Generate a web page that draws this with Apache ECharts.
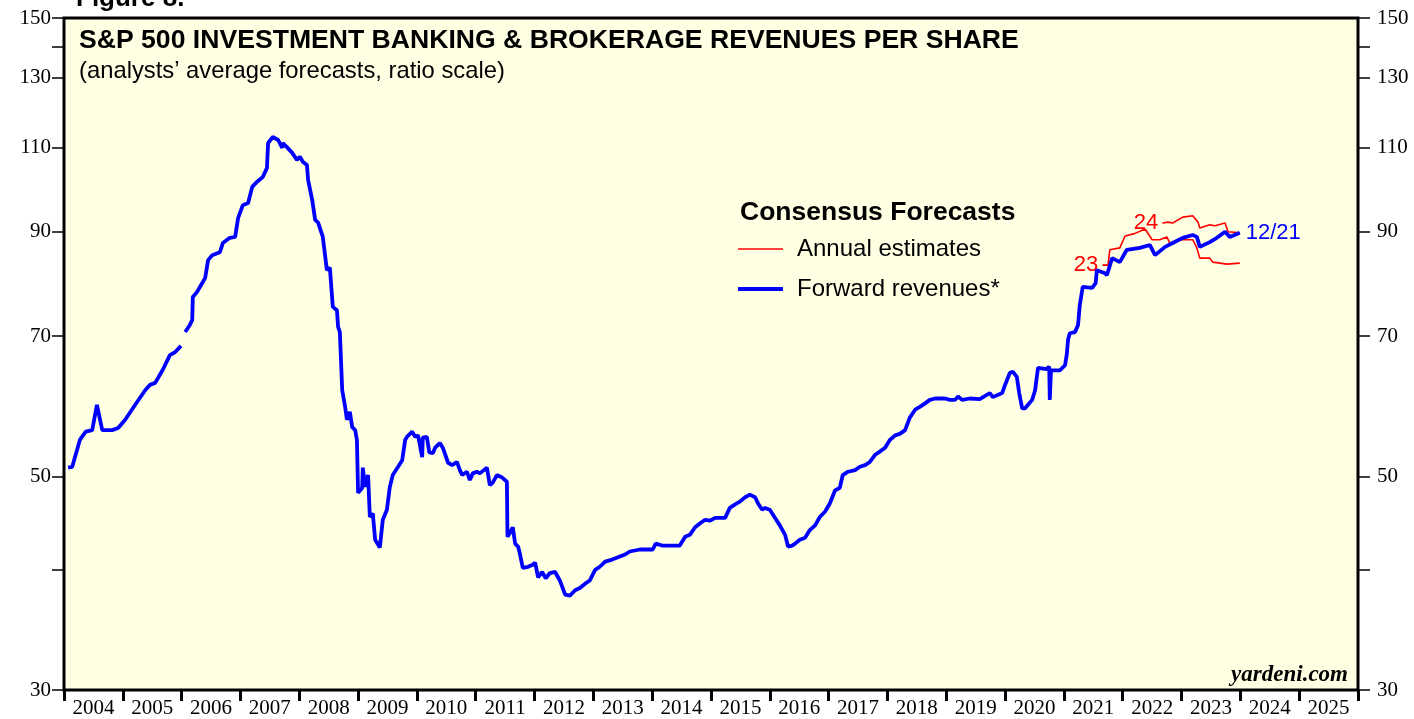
<!DOCTYPE html>
<html>
<head>
<meta charset="utf-8">
<title>S&amp;P 500 Investment Banking &amp; Brokerage Revenues Per Share</title>
<script src="https://cdn.jsdelivr.net/npm/echarts@6/dist/echarts.min.js"></script>
<style>
    html, body { margin: 0; padding: 0; background: #fff; }
    #chart { width: 1414px; height: 719px; }
</style>
</head>
<body>
<div id="chart"></div>
<script>
    // year labels on the bottom axis (one band per year)
    var years = ['2004','2005','2006','2007','2008','2009','2010','2011','2012','2013','2014',
                 '2015','2016','2017','2018','2019','2020','2021','2022','2023','2024','2025'];
    // ratio scale ticks
    var yLabelValues = [30, 50, 70, 90, 110, 130, 150];
    var yTickValues = [30, 40, 50, 70, 90, 110, 130, 140, 150];

    // forward revenues per share [year, value]
    var fwdRevenue = [
        [2004.07,51.1],[2004.14,51.2],[2004.27,54.6],[2004.37,55.7],[2004.48,55.9],[2004.56,59.4],[2004.65,55.9],[2004.82,55.9],[2004.92,56.2],
        [2005.04,57.3],[2005.21,59.4],[2005.38,61.5],[2005.46,62.3],[2005.55,62.6],[2005.68,64.6],[2005.80,66.9],[2005.89,67.4],[2005.99,68.4],
        [2006.02,null],
        [2006.06,70.7],[2006.14,71.9],[2006.18,72.8],[2006.19,76.9],[2006.26,77.8],[2006.35,79.5],[2006.40,80.5],[2006.45,84.0],[2006.52,85.0],[2006.65,85.6],[2006.70,87.5],[2006.82,88.6],[2006.91,88.8],[2006.96,92.9],
        [2007.04,95.8],[2007.13,96.3],[2007.20,100.1],[2007.28,101.3],[2007.38,102.5],[2007.45,104.7],[2007.47,111.2],[2007.55,112.8],[2007.64,112.0],[2007.71,109.9],[2007.72,111.2],[2007.79,110.1],[2007.88,108.6],[2007.96,106.8],
        [2008.01,107.6],[2008.06,106.3],[2008.13,105.5],[2008.15,101.8],[2008.22,97.0],[2008.27,92.5],[2008.32,91.9],[2008.40,88.8],[2008.47,82.0],[2008.52,82.5],[2008.57,75.1],[2008.64,74.5],[2008.66,71.6],[2008.69,70.7],[2008.73,61.5],[2008.78,59.1],[2008.81,57.3],[2008.86,58.4],[2008.90,56.3],[2008.95,55.9],[2008.98,54.6],
        [2009.00,48.1],[2009.07,48.7],[2009.08,51.1],[2009.12,48.8],[2009.17,50.2],[2009.20,45.4],[2009.25,45.8],[2009.29,43.0],[2009.37,42.2],[2009.42,45.1],[2009.49,46.2],[2009.54,48.8],[2009.59,50.2],[2009.68,51.2],[2009.75,52.0],[2009.80,54.6],[2009.83,55.0],[2009.92,55.7],[2009.97,55.0],
        [2010.02,55.2],[2010.09,52.4],[2010.10,54.9],[2010.17,55.0],[2010.21,53.0],[2010.27,52.9],[2010.31,53.6],[2010.39,54.2],[2010.44,53.6],[2010.53,51.7],[2010.60,51.4],[2010.68,51.8],[2010.73,50.8],[2010.77,50.2],[2010.85,50.6],[2010.90,49.6],[2010.95,50.4],
        [2011.02,50.6],[2011.07,50.4],[2011.19,51.1],[2011.24,49.0],[2011.29,49.3],[2011.36,50.2],[2011.45,49.9],[2011.53,49.4],[2011.54,43.3],[2011.58,43.7],[2011.63,44.3],[2011.67,42.6],[2011.72,42.3],[2011.75,41.6],[2011.80,40.2],[2011.89,40.3],[2011.97,40.5],
        [2012.01,40.7],[2012.06,39.3],[2012.13,39.8],[2012.19,39.2],[2012.26,39.7],[2012.35,39.8],[2012.43,39.0],[2012.52,37.7],[2012.60,37.6],[2012.69,38.1],[2012.77,38.3],[2012.86,38.7],[2012.94,39.0],
        [2013.03,40.0],[2013.11,40.3],[2013.20,40.8],[2013.32,41.0],[2013.45,41.3],[2013.54,41.5],[2013.62,41.8],[2013.79,42.0],[2013.93,42.0],
        [2014.01,42.0],[2014.06,42.6],[2014.17,42.4],[2014.47,42.4],[2014.56,43.3],[2014.64,43.5],[2014.73,44.3],[2014.81,44.7],[2014.90,45.1],[2014.98,45.0],
        [2015.07,45.3],[2015.24,45.3],[2015.32,46.4],[2015.41,46.8],[2015.49,47.1],[2015.58,47.6],[2015.66,47.9],[2015.75,47.6],[2015.80,46.9],[2015.87,46.2],[2015.92,46.4],
        [2016.00,46.2],[2016.09,45.3],[2016.17,44.5],[2016.26,43.5],[2016.31,42.3],[2016.38,42.4],[2016.43,42.6],[2016.51,43.0],[2016.60,43.2],[2016.68,44.0],[2016.77,44.5],[2016.85,45.4],[2016.94,46.0],
        [2017.02,46.9],[2017.11,48.4],[2017.19,48.7],[2017.24,50.2],[2017.33,50.6],[2017.45,50.8],[2017.53,51.2],[2017.62,51.4],[2017.70,51.8],[2017.79,52.7],[2017.87,53.1],[2017.96,53.6],
        [2018.04,54.6],[2018.13,55.2],[2018.21,55.4],[2018.30,55.9],[2018.38,57.6],[2018.47,58.7],[2018.55,59.1],[2018.64,59.6],[2018.72,60.1],[2018.81,60.3],[2018.98,60.3],
        [2019.06,60.1],[2019.15,60.1],[2019.20,60.6],[2019.27,60.1],[2019.40,60.3],[2019.57,60.2],[2019.74,61.1],[2019.79,60.5],[2019.95,61.1],
        [2020.00,62.3],[2020.08,64.1],[2020.13,64.3],[2020.20,63.5],[2020.24,61.1],[2020.29,58.9],[2020.34,58.9],[2020.46,60.1],[2020.51,61.5],[2020.56,64.9],[2020.71,64.7],[2020.75,65.1],[2020.76,60.1],[2020.78,64.5],[2020.93,64.5],
        [2021.02,65.3],[2021.05,67.1],[2021.07,69.4],[2021.10,70.5],[2021.19,70.7],[2021.24,71.9],[2021.27,75.4],[2021.32,78.8],[2021.48,78.6],[2021.54,79.5],[2021.56,82.0],[2021.70,81.4],[2021.73,81.0],[2021.82,84.4],[2021.95,83.6],
        [2022.07,86.1],[2022.29,86.5],[2022.46,87.1],[2022.55,85.0],[2022.72,86.7],[2022.85,87.5],
        [2023.02,88.6],[2023.19,89.2],[2023.26,88.8],[2023.31,86.7],[2023.48,87.7],[2023.60,88.6],[2023.74,89.9],[2023.82,88.8],[2023.99,89.7]
    ];

    // annual estimates for 2023 and 2024 [year, value]
    var est2023 = [
        [2021.66,83.0],[2021.75,83.0],[2021.78,86.1],[2021.95,86.5],[2022.04,89.0],[2022.20,89.5],[2022.38,90.5],[2022.50,88.2],[2022.63,88.2],
        [2022.75,88.8],[2022.80,87.5],[2023.02,88.2],[2023.19,88.2],[2023.26,86.5],[2023.31,84.4],[2023.48,84.4],[2023.53,83.6],[2023.77,83.2],[2023.99,83.4]
    ];
    var est2024 = [
        [2022.68,91.8],[2022.77,92.0],[2022.85,91.8],[2023.02,93.1],[2023.19,93.4],[2023.28,92.0],[2023.31,90.7],[2023.48,91.4],
        [2023.57,91.2],[2023.74,91.8],[2023.79,89.9],[2023.99,89.7]
    ];

    var serif = '"Times New Roman", "Liberation Serif", serif';
    var sans = 'Arial, "Liberation Sans", sans-serif';

    // put a text label on the first point of an estimate line
    function withStartLabel(arr, text) {
        return arr.map(function (p, i) {
            if (i > 0) return p;
            return {
                value: p,
                symbol: 'circle',
                symbolSize: 1,
                label: { show: true, position: 'left', distance: 4, formatter: text,
                         color: '#FF0000', fontSize: 22, fontFamily: sans }
            };
        });
    }

    function valueAxisSide(side, margin) {
        return {
            type: 'value',
            position: side,
            min: Math.log(30),
            max: Math.log(150),
            axisLine: { show: false },
            splitLine: { show: false },
            axisTick: {
                show: true, length: 12,
                lineStyle: { color: '#000', width: 1.5 },
                customValues: yTickValues.map(Math.log)
            },
            axisLabel: {
                show: true, margin: margin,
                color: '#000', fontSize: 21, fontFamily: serif,
                customValues: yLabelValues.map(Math.log),
                formatter: function (v) { return Math.round(Math.exp(v)); }
            }
        };
    }

    var option = {
        animation: false,
        backgroundColor: '#fff',
        title: {
            text: 'S&P 500 INVESTMENT BANKING & BROKERAGE REVENUES PER SHARE',
            subtext: '(analysts’ average forecasts, ratio scale)',
            left: 79,
            top: 27,
            itemGap: 5,
            padding: 0,
            textStyle: { fontSize: 26.6, fontWeight: 'bold', color: '#000', fontFamily: sans },
            subtextStyle: { fontSize: 23.8, color: '#000', fontFamily: sans }
        },
        legend: {
            data: [
                { name: 'Annual estimates', icon: 'path://M0,0 H45 V1.6 H0 Z' },
                { name: 'Forward revenues*', icon: 'path://M0,0 H45 V4 H0 Z' }
            ],
            orient: 'vertical',
            left: 733,
            top: 232,
            itemWidth: 45,
            itemHeight: 14,
            itemGap: 16,
            symbolKeepAspect: true,
            textStyle: { fontSize: 24, color: '#000', fontFamily: sans, padding: [0, 0, 0, 9] }
        },
        graphic: [
            { type: 'text', left: 76, top: -14,
              style: { text: 'Figure 8.', font: 'bold 26px ' + sans, fill: '#000' } },
            { type: 'text', left: 740, top: 199,
              style: { text: 'Consensus Forecasts', font: 'bold 26.5px ' + sans, fill: '#000' } },
            { type: 'text', right: 66, top: 664,
              style: { text: 'yardeni.com', font: 'italic bold 23px ' + serif, fill: '#000' } }
        ],
        grid: {
            left: 64, right: 56, top: 18, bottom: 29,
            show: true,
            backgroundColor: '#FFFFE4',
            borderColor: '#000',
            borderWidth: 3
        },
        xAxis: [
            { type: 'value', min: 2004, max: 2026, show: false },
            {
                type: 'category', position: 'bottom', data: years, boundaryGap: true,
                axisLine: { show: false },
                axisTick: { show: true, length: 11, lineStyle: { color: '#000', width: 3 } },
                axisLabel: { color: '#000', fontSize: 21, fontFamily: serif, margin: 8 },
                splitLine: { show: false }
            }
        ],
        yAxis: [
            { type: 'log', logBase: 10, min: 30, max: 150, show: false },
            valueAxisSide('left', 13),
            valueAxisSide('right', 19)
        ],
        series: [
            {
                name: 'Annual estimates', type: 'line', xAxisIndex: 0, yAxisIndex: 0,
                data: withStartLabel(est2023, '23'),
                symbol: 'none', z: 2,
                itemStyle: { color: '#FF0000' },
                lineStyle: { color: '#FF0000', width: 1.6 }
            },
            {
                name: 'Annual estimates', type: 'line', xAxisIndex: 0, yAxisIndex: 0,
                data: withStartLabel(est2024, '24'),
                symbol: 'none', z: 2,
                itemStyle: { color: '#FF0000' },
                lineStyle: { color: '#FF0000', width: 1.6 }
            },
            {
                name: 'Forward revenues*', type: 'line', xAxisIndex: 0, yAxisIndex: 0,
                data: fwdRevenue,
                symbol: 'none', z: 3,
                connectNulls: false,
                itemStyle: { color: '#0000FF' },
                lineStyle: { color: '#0000FF', width: 3.8 },
                endLabel: { show: true, formatter: '12/21', color: '#0000FF', fontSize: 22, fontFamily: sans, distance: 6 }
            }
        ]
    };

    var chart = echarts.init(document.getElementById('chart'));
    chart.setOption(option);
</script>
</body>
</html>
